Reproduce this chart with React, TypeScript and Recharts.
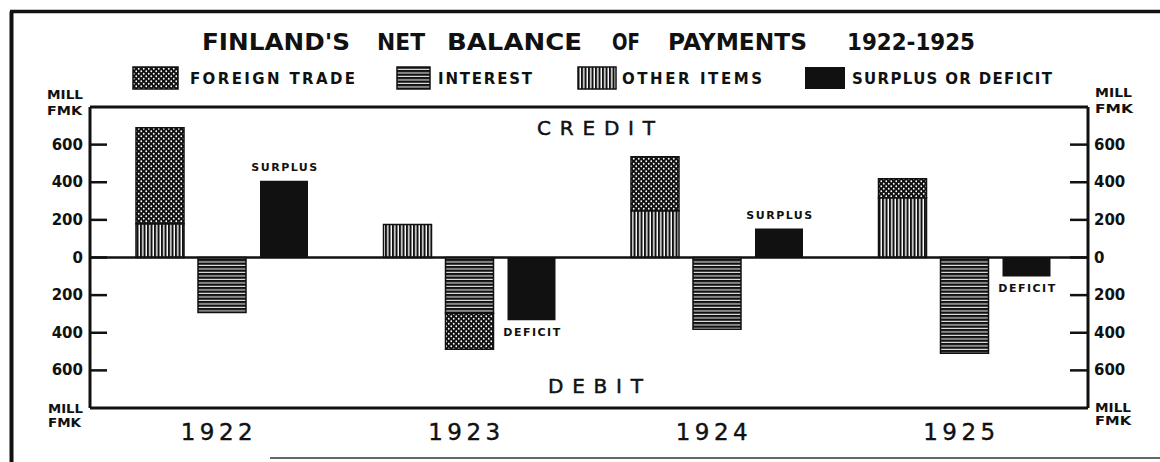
import React from 'react'
import { BarChart, Bar, XAxis, YAxis, ReferenceLine, LabelList } from 'recharts'

if (typeof document !== 'undefined') document.body.style.margin = '0'

const years = ['1922', '1923', '1924', '1925']
const otherItems = [180, 175, 249, 318]
const foreignTradeCredit = [510, 0, 287, 101]
const interest = [-292, -297, -382, -509]
const foreignTradeDebit = [0, -191, 0, 0]
const balance = [408, -334, 154, -101]
const yTicks = [-600, -400, -200, 0, 200, 400, 600]

const data = years.map((year, i) => ({
  year,
  otherItems: otherItems[i],
  tradeCredit: foreignTradeCredit[i],
  interest: interest[i],
  tradeDebit: foreignTradeDebit[i],
  balance: balance[i]
}))

// title is hand lettered with wide word gaps, so each word gets its own slot
const titleWords: [string, number, number][] = [
  ["FINLAND'S", 202, 148],
  ['NET', 377, 48],
  ['BALANCE', 447, 135],
  ['OF', 612, 28],
  ['PAYMENTS', 668, 139],
  ['1922-1925', 847, 128]
]

const FONT = '"DejaVu Sans", Verdana, sans-serif'
const INK = '#111'

function LeftTick({ x, y, payload }: any) {
  return (
    <g>
      <line x1={x + 7} x2={x + 24} y1={y} y2={y} stroke={INK} strokeWidth={2.5} />
      <text x={x} y={y} textAnchor="end" dominantBaseline="central" fontFamily={FONT} fontWeight="bold" fontSize={15} fill={INK}>
        {Math.abs(payload.value)}
      </text>
    </g>
  )
}

function RightTick({ x, y, payload }: any) {
  return (
    <g>
      <line x1={x - 6} x2={x - 24} y1={y} y2={y} stroke={INK} strokeWidth={2.5} />
      <text x={x} y={y} textAnchor="start" dominantBaseline="central" fontFamily={FONT} fontWeight="bold" fontSize={15} fill={INK}>
        {Math.abs(payload.value)}
      </text>
    </g>
  )
}

function YearTick({ x, y, payload }: any) {
  return (
    <text x={x - 5} y={y} textAnchor="middle" dominantBaseline="central" fontFamily={FONT} fontSize={23} fontWeight={500} stroke={INK} strokeWidth={0.4} textLength={72} lengthAdjust="spacing" fill={INK}>
      {payload.value}
    </text>
  )
}

function BalanceLabel({ x, y, width, height, value }: any) {
  const top = Math.min(y, y + height)
  const bottom = Math.max(y, y + height)
  const surplus = value >= 0
  return (
    <text
      x={x + width / 2 + 1}
      y={surplus ? top - 13 : bottom + 12}
      textAnchor="middle"
      dominantBaseline="central"
      fontFamily={FONT}
      fontWeight="bold"
      fontSize={11}
      letterSpacing={1.5}
      fill={INK}
    >
      {surplus ? 'SURPLUS' : 'DEFICIT'}
    </text>
  )
}

function Overlay() {
  const txt = { fontFamily: FONT, fontWeight: 'bold' as const, fill: INK }
  return (
    <svg width={1160} height={462} style={{ position: 'absolute', left: 0, top: 0, pointerEvents: 'none' }}>
      <defs>
        <pattern id="pat-trade" width={5} height={5} patternUnits="userSpaceOnUse">
          <rect width={5} height={5} fill={INK} />
          <circle cx={1.25} cy={1.25} r={0.9} fill="#fff" />
          <circle cx={3.75} cy={3.75} r={0.9} fill="#fff" />
        </pattern>
        <pattern id="pat-interest" width={4} height={3.5} patternUnits="userSpaceOnUse">
          <rect width={4} height={3.5} fill={INK} />
          <rect y={2.4} width={4} height={1} fill="#fff" />
        </pattern>
        <pattern id="pat-other" width={3.5} height={4} patternUnits="userSpaceOnUse">
          <rect width={3.5} height={4} fill="#fff" />
          <rect width={2.1} height={4} fill={INK} />
        </pattern>
      </defs>

      {/* page frame */}
      <line x1={11.5} y1={11.5} x2={11.5} y2={462} stroke={INK} strokeWidth={4} />
      <line x1={10} y1={11.5} x2={1160} y2={11.5} stroke={INK} strokeWidth={3.5} />
      <line x1={270} y1={458} x2={1160} y2={458} stroke="#666" strokeWidth={2} />

      {titleWords.map(([word, x, w]) => (
        <text key={word} x={x} y={50} textLength={w} lengthAdjust="spacingAndGlyphs" fontSize={23} {...txt}>
          {word}
        </text>
      ))}

      <rect x={133} y={67} width={45} height={22} fill="url(#pat-trade)" stroke={INK} strokeWidth={1.5} />
      <text x={190} y={84} textLength={165} lengthAdjust="spacing" fontSize={15} {...txt}>FOREIGN TRADE</text>
      <rect x={397} y={67} width={33} height={22} fill="url(#pat-interest)" stroke={INK} strokeWidth={1.5} />
      <text x={438} y={84} textLength={94} lengthAdjust="spacing" fontSize={15} {...txt}>INTEREST</text>
      <rect x={578} y={67} width={38} height={22} fill="url(#pat-other)" stroke={INK} strokeWidth={1.5} />
      <text x={622} y={84} textLength={140} lengthAdjust="spacing" fontSize={15} {...txt}>OTHER ITEMS</text>
      <rect x={805} y={67} width={40} height={22} fill={INK} />
      <text x={852} y={84} textLength={200} lengthAdjust="spacing" fontSize={15} {...txt}>SURPLUS OR DEFICIT</text>

      <text x={47} y={99} textLength={36} lengthAdjust="spacingAndGlyphs" fontSize={13} {...txt}>MILL</text>
      <text x={47} y={115} textLength={35} lengthAdjust="spacingAndGlyphs" fontSize={13} {...txt}>FMK</text>
      <text x={48} y={413} textLength={35} lengthAdjust="spacingAndGlyphs" fontSize={13} {...txt}>MILL</text>
      <text x={48} y={427} textLength={33} lengthAdjust="spacingAndGlyphs" fontSize={13} {...txt}>FMK</text>
      <text x={1095} y={97} textLength={37} lengthAdjust="spacingAndGlyphs" fontSize={13} {...txt}>MILL</text>
      <text x={1095} y={113} textLength={38} lengthAdjust="spacingAndGlyphs" fontSize={13} {...txt}>FMK</text>
      <text x={1095} y={412} textLength={36} lengthAdjust="spacingAndGlyphs" fontSize={13} {...txt}>MILL</text>
      <text x={1095} y={425} textLength={36} lengthAdjust="spacingAndGlyphs" fontSize={13} {...txt}>FMK</text>

      <text x={537} y={135} textLength={118} lengthAdjust="spacing" fontSize={20} fontFamily={FONT} stroke={INK} strokeWidth={0.5} fill={INK}>CREDIT</text>
      <text x={548} y={393} textLength={95} lengthAdjust="spacing" fontSize={20} fontFamily={FONT} stroke={INK} strokeWidth={0.5} fill={INK}>DEBIT</text>
    </svg>
  )
}

export default function App(): React.ReactElement {
  return (
    <div style={{ position: 'relative', width: 1160, height: 462, background: '#fff' }}>
      <BarChart
        width={1160}
        height={462}
        data={data}
        margin={{ top: 107, right: 12, bottom: 24, left: 30 }}
        barSize={48}
        barGap={14}
      >
        <XAxis
          dataKey="year"
          xAxisId={0}
          padding={{ left: 8, right: 0 }}
          axisLine={{ stroke: INK, strokeWidth: 3 }}
          tickLine={false}
          tickSize={0}
          tickMargin={24}
          height={30}
          tick={<YearTick />}
        />
        <YAxis
          yAxisId={0}
          domain={[-800, 800]}
          ticks={yTicks}
          width={60}
          axisLine={{ stroke: INK, strokeWidth: 3 }}
          tickLine={false}
          tickSize={0}
          tickMargin={7}
          tick={<LeftTick />}
          allowDataOverflow
        />
        <YAxis
          yAxisId="right"
          orientation="right"
          domain={[-800, 800]}
          ticks={yTicks}
          width={60}
          axisLine={{ stroke: INK, strokeWidth: 3 }}
          tickLine={false}
          tickSize={0}
          tickMargin={6}
          tick={<RightTick />}
          allowDataOverflow
        />
        <ReferenceLine y={800} stroke={INK} strokeWidth={3} />
        <Bar dataKey="otherItems" stackId="credit" fill="url(#pat-other)" stroke={INK} strokeWidth={1.5} isAnimationActive={false} />
        <Bar dataKey="tradeCredit" stackId="credit" fill="url(#pat-trade)" stroke={INK} strokeWidth={1.5} isAnimationActive={false} />
        <Bar dataKey="interest" stackId="debit" fill="url(#pat-interest)" stroke={INK} strokeWidth={1.5} isAnimationActive={false} />
        <Bar dataKey="tradeDebit" stackId="debit" fill="url(#pat-trade)" stroke={INK} strokeWidth={1.5} isAnimationActive={false} />
        <Bar dataKey="balance" stackId="balance" fill={INK} isAnimationActive={false}>
          <LabelList dataKey="balance" content={<BalanceLabel />} />
        </Bar>
        <ReferenceLine y={0} stroke={INK} strokeWidth={2.5} />
      </BarChart>
      <Overlay />
    </div>
  )
}
